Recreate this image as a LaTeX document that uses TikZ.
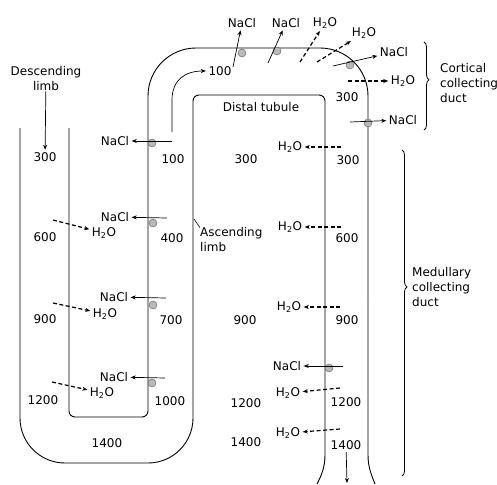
\documentclass[tikz,border=0pt]{standalone}
\usepackage{fontspec}
\setmainfont{DejaVu Sans}
\usetikzlibrary{arrows.meta,decorations.pathreplacing}
\begin{document}
\begin{tikzpicture}[x=1pt,y=-1pt,
  wall/.style={line width=0.9pt},
  txt/.style={inner sep=2.5pt, font=\fontsize{12}{15}\selectfont},
  multi/.style={txt, inner sep=0pt},
  salt/.style={line width=0.7pt, -{Stealth[length=5pt,width=4pt]}},
  water/.style={line width=1.2pt, dash pattern=on 4pt off 2.5pt, -{Stealth[length=5pt,width=4pt]}},
  pump/.style={circle, fill=gray!55, draw=gray!70!black, line width=0.4pt, minimum size=8pt, inner sep=0pt},
  brc/.style={decorate, decoration={brace, amplitude=5pt, aspect=#1}, line width=0.8pt}
]
\useasboundingbox (0,0) rectangle (497,484);

% ---- tube walls ----
\draw[wall, rounded corners=45] (20,128) -- (20,463) -- (193,463) -- (193,300);
\draw[wall, rounded corners=6] (193,300) -- (193,95) -- (325,95) -- (325,300);
\draw[wall] (325,300) -- (325,455) .. controls (325,468) and (321,476) .. (317,484);
\draw[wall, rounded corners=6] (69,128) -- (69,417) -- (148,417) -- (148,300);
\draw[wall, rounded corners=48] (148,300) -- (148,48) -- (368,48) -- (368,300);
\draw[wall] (368,300) -- (368,455) .. controls (368,468) and (372,476) .. (375,484);

% ---- labels ----
\node[multi, align=center] (desc) at (46,79) {Descending\\limb};
\node[multi, align=left, anchor=west] (asc) at (200,240) {Ascending\\limb};
\node[txt] (dist) at (261,107) {Distal tubule};
\node[multi, align=left, anchor=west] (cort) at (440,83) {Cortical\\collecting\\duct};
\node[multi, align=left, anchor=west] (med) at (412,287) {Medullary\\collecting\\duct};

% ---- numbers ----
\node[txt] (d300) at (45,157) {300};
\node[txt] (d600) at (45,237) {600};
\node[txt] (d900) at (45,319) {900};
\node[txt] (d1200) at (43,400) {1200};
\node[txt] (b1400) at (107,443) {1400};
\node[txt] (a100) at (173,159) {100};
\node[txt] (a400) at (172,238) {400};
\node[txt] (a700) at (171,320) {700};
\node[txt] (a1000) at (170,401) {1000};
\node[txt] (top100) at (220,71) {100};
\node[txt] (t300) at (246,159) {300};
\node[txt] (t900) at (245,320) {900};
\node[txt] (t1200) at (246,403) {1200};
\node[txt] (t1400) at (246,442) {1400};
\node[txt] (c300a) at (347,97) {300};
\node[txt] (c300) at (348,160) {300};
\node[txt] (c600) at (347,238) {600};
\node[txt] (c900) at (347,320) {900};
\node[txt] (c1200) at (346,402) {1200};
\node[txt] (c1400) at (346,445) {1400};

% ---- transported substances ----
\node[txt] (an1) at (115,141) {NaCl};
\node[txt] (an2) at (115,217) {NaCl};
\node[txt] (an3) at (114,297) {NaCl};
\node[txt] (an4) at (114,377) {NaCl};
\node[txt] (dw1) at (104,233) {H\textsubscript{2}O};
\node[txt] (dw2) at (105,314) {H\textsubscript{2}O};
\node[txt] (dw3) at (102,393) {H\textsubscript{2}O};
\node[txt] (tn1) at (242,23) {NaCl};
\node[txt] (tn2) at (286,23) {NaCl};
\node[txt] (tw1) at (325,23) {H\textsubscript{2}O};
\node[txt] (tw2) at (364,33) {H\textsubscript{2}O};
\node[txt] (tn3) at (394,52) {NaCl};
\node[txt] (tw3) at (403,81) {H\textsubscript{2}O};
\node[txt] (tn4) at (403,120) {NaCl};
\node[txt] (cw1) at (290,147) {H\textsubscript{2}O};
\node[txt] (cw2) at (290,227) {H\textsubscript{2}O};
\node[txt] (cw3) at (289,307) {H\textsubscript{2}O};
\node[txt] (cn1) at (287,366) {NaCl};
\node[txt] (cw4) at (288,393) {H\textsubscript{2}O};
\node[txt] (cw5) at (288,433) {H\textsubscript{2}O};

% ---- pumps ----
\node[pump] (p1) at (152,143) {};
\node[pump] (p2) at (153,223) {};
\node[pump] (p3) at (153,305) {};
\node[pump] (p4) at (152,383) {};
\node[pump] (p5) at (242,53) {};
\node[pump] (p6) at (277,51) {};
\node[pump] (p7) at (350,65) {};
\node[pump] (p8) at (368,123) {};
\node[pump] (p9) at (329,368) {};

% ---- arrow start points ----
\coordinate (sa1) at (172,141);
\coordinate (sa2) at (167,218);
\coordinate (sa3) at (166,298);
\coordinate (sa4) at (165,378);
\coordinate (sd1) at (53,220);
\coordinate (sd2) at (53,303);
\coordinate (sd3) at (52,382);
\coordinate (st1) at (233,67);
\coordinate (st2) at (268,63);
\coordinate (st3) at (300,62);
\coordinate (st4) at (317,62);
\coordinate (st5) at (333,66);
\coordinate (st6) at (348,81);
\coordinate (st7) at (350,122);
\coordinate (sc1) at (341,147);
\coordinate (sc2) at (341,227);
\coordinate (sc3) at (340,307);
\coordinate (sc4) at (343,366);
\coordinate (sc5) at (340,388);
\coordinate (sc6) at (340,429);
\coordinate (sup) at (172,132);
\coordinate (bend) at (172,100);
\coordinate (outflow) at (347,483);
\coordinate (lead1) at (194,219);

% ---- arrows ----
\draw[salt] (sa1) -- (an1);
\draw[salt] (sa2) -- (an2);
\draw[salt] (sa3) -- (an3);
\draw[salt] (sa4) -- (an4);
\draw[water] (sd1) -- (dw1);
\draw[water] (sd2) -- (dw2);
\draw[water] (sd3) -- (dw3);
\draw[salt] (st1) -- (tn1);
\draw[salt] (st2) -- (tn2);
\draw[water] (st3) -- (tw1);
\draw[water] (st4) -- (tw2);
\draw[salt] (st5) -- (tn3);
\draw[water] (st6) -- (tw3);
\draw[salt] (st7) -- (tn4);
\draw[water] (sc1) -- (cw1);
\draw[water] (sc2) -- (cw2);
\draw[water] (sc3) -- (cw3);
\draw[salt] (sc4) -- (cn1);
\draw[water] (sc5) -- (cw4);
\draw[water] (sc6) -- (cw5);
\draw[salt] (desc) -- (d300);
\draw[salt] (sup) -- (bend) .. controls (172,80) and (185,71) .. (top100);
\draw[salt] (c1400) -- (outflow);
\draw[line width=0.6pt] (lead1) -- (asc.north west);

% ---- braces ----
\draw[brc=0.43] (424,42) -- (424,130);
\draw[brc=0.42] (402,150) -- (402,476);
\end{tikzpicture}
\end{document}
